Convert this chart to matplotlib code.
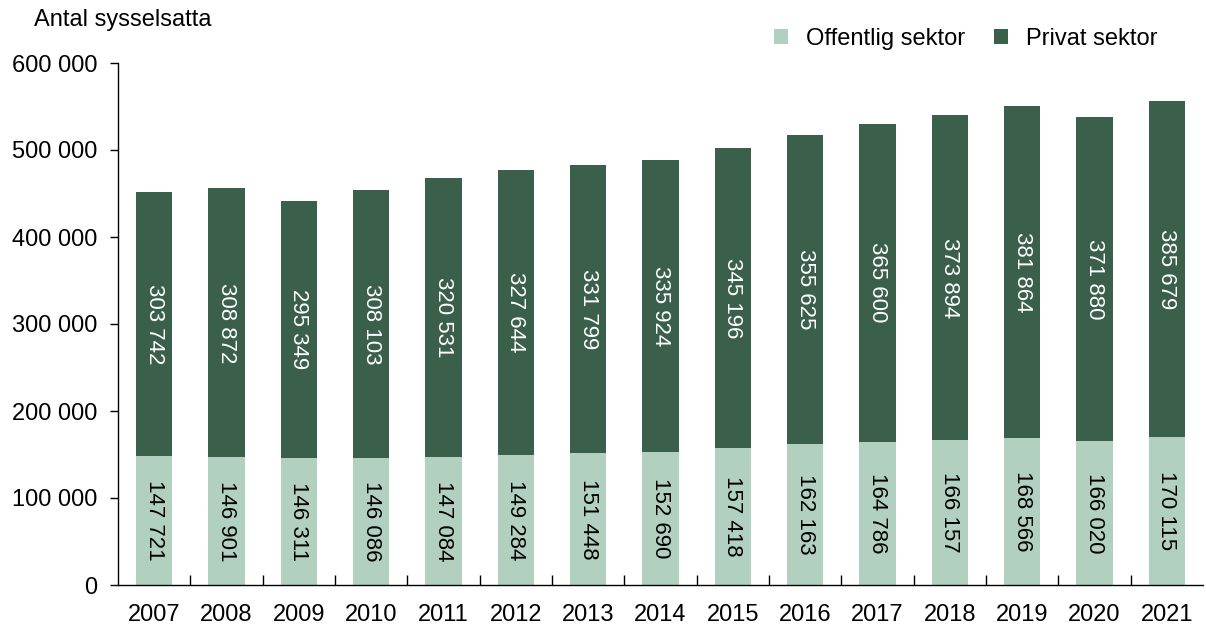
import matplotlib.pyplot as plt
from matplotlib.ticker import FuncFormatter, FixedLocator
import numpy as np

years = [str(y) for y in range(2007, 2022)]
offentlig = [147721, 146901, 146311, 146086, 147084, 149284, 151448, 152690,
             157418, 162163, 164786, 166157, 168566, 166020, 170115]
privat = [303742, 308872, 295349, 308103, 320531, 327644, 331799, 335924,
          345196, 355625, 365600, 373894, 381864, 371880, 385679]

col_off = '#b2d0c0'
col_priv = '#3a5f4b'

plt.rcParams['font.family'] = ['Liberation Sans', 'DejaVu Sans']
plt.rcParams['font.size'] = 17


def fmt(v):
    return f"{int(v):,}".replace(',', ' ')


fig = plt.figure(figsize=(12.06, 6.28), dpi=100)
ax = fig.add_axes([118 / 1206, 1 - 585 / 628, (1203 - 118) / 1206, (585 - 63) / 628])

x = np.arange(len(years))
ax.bar(x, offentlig, width=0.5, color=col_off, label='Offentlig sektor')
ax.bar(x, privat, width=0.5, bottom=offentlig, color=col_priv, label='Privat sektor')

# value labels inside the bars, read top to bottom
for i in range(len(years)):
    ax.text(x[i], offentlig[i] / 2, fmt(offentlig[i]), rotation=-90,
            ha='center', va='center', color='black', fontsize=16)
    ax.text(x[i], offentlig[i] + privat[i] / 2, fmt(privat[i]), rotation=-90,
            ha='center', va='center', color='white', fontsize=16)

ax.set_xlim(-0.5, len(years) - 0.5)
ax.set_ylim(0, 600000)
ax.set_yticks(np.arange(0, 600001, 100000))
ax.yaxis.set_major_formatter(FuncFormatter(lambda v, p: fmt(v)))

ax.set_xticks(x)
ax.set_xticklabels(years)
ax.tick_params(axis='x', length=0, pad=14)
ax.xaxis.set_minor_locator(FixedLocator(np.arange(0.5, len(years) - 1, 1)))
ax.tick_params(axis='x', which='minor', direction='in', length=7, width=1)
ax.tick_params(axis='y', direction='out', length=6, width=1, pad=9)

for s in ['top', 'right']:
    ax.spines[s].set_visible(False)
for s in ['left', 'bottom']:
    ax.spines[s].set_linewidth(1)

fig.text(34 / 1206, 1 - 20 / 628, 'Antal sysselsatta', ha='left', va='center', fontsize=17)

ax.legend(loc='center right', bbox_to_anchor=((1157 - 118) / 1085, 1 + (63 - 39) / 522),
          ncol=2, frameon=False, handlelength=0.6, handleheight=0.6,
          columnspacing=1.2, handletextpad=0.75, fontsize=17, borderaxespad=0,
          borderpad=0)

fig.savefig('out.png', dpi=100)
